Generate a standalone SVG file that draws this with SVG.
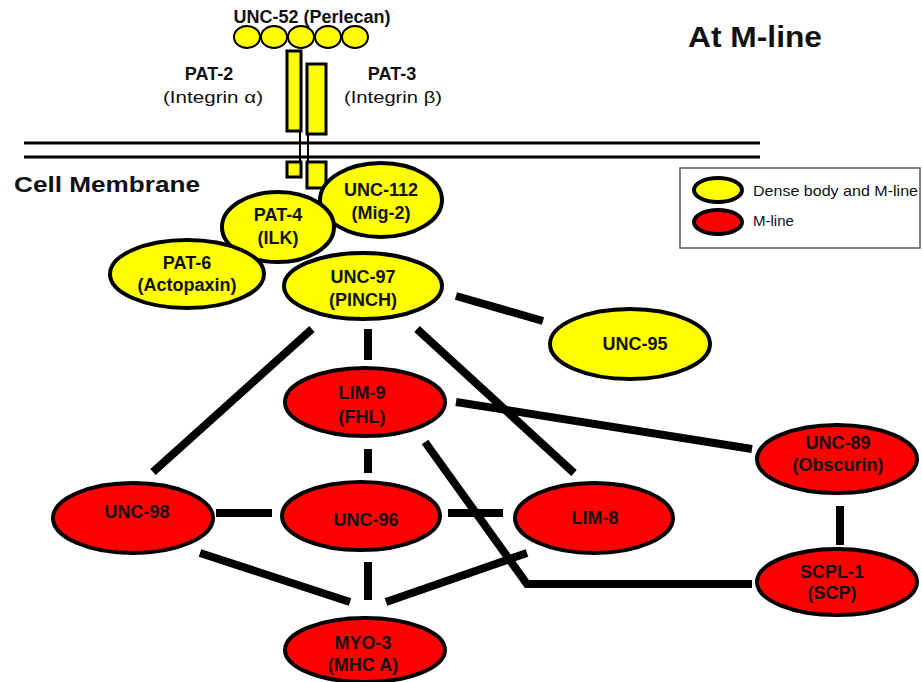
<svg xmlns="http://www.w3.org/2000/svg" width="922" height="682" viewBox="0 0 922 682">
<style>
text{font-family:"Liberation Sans",Arial,sans-serif;fill:#111}
.t{font-weight:bold;font-size:18px;text-anchor:middle}
.y{fill:#ffff00;stroke:#000;stroke-width:4}
.r{fill:#ff0000;stroke:#000;stroke-width:4}
.c{stroke:#000;stroke-width:8;fill:none}
.m{stroke:#000;stroke-width:3}
.rect{fill:#ffff00;stroke:#000;stroke-width:3}
</style>
<rect width="922" height="682" fill="#fff"/>
<g id="perlecan">
<text class="t" x="312" y="23">UNC-52 (Perlecan)</text>
<g class="y" style="stroke-width:2">
<ellipse cx="247" cy="37" rx="13" ry="11"/>
<ellipse cx="274" cy="37" rx="13" ry="11"/>
<ellipse cx="301" cy="37" rx="13" ry="11"/>
<ellipse cx="328" cy="37" rx="13" ry="11"/>
<ellipse cx="355" cy="37" rx="13" ry="11"/>
</g>
</g>
<g id="membrane">
<line class="m" x1="24" y1="143" x2="760" y2="143"/>
<line class="m" x1="24" y1="157" x2="760" y2="157"/>
<text x="14" y="192" font-weight="bold" font-size="22" textLength="186" lengthAdjust="spacingAndGlyphs">Cell Membrane</text>
</g>
<g id="integrins">
<line x1="300" y1="131" x2="300" y2="162" stroke="#000" stroke-width="2"/>
<line x1="308" y1="134" x2="308" y2="162" stroke="#000" stroke-width="2"/>
<rect class="rect" x="287" y="51" width="14" height="80"/>
<rect class="rect" x="307" y="64" width="19" height="70"/>
<rect class="rect" x="287" y="162" width="14" height="15"/>
<rect class="rect" x="307" y="162" width="19" height="26"/>
<text class="t" x="209" y="80">PAT-2</text>
<text x="213" y="103" font-size="17" text-anchor="middle" textLength="100" lengthAdjust="spacingAndGlyphs">(Integrin α)</text>
<text class="t" x="392" y="80">PAT-3</text>
<text x="393" y="103" font-size="17" text-anchor="middle" textLength="98" lengthAdjust="spacingAndGlyphs">(Integrin β)</text>
</g>
<text x="688" y="47" font-weight="bold" font-size="29" textLength="134" lengthAdjust="spacingAndGlyphs">At M-line</text>
<g id="legend">
<rect x="680" y="168" width="240" height="80" fill="#fff" stroke="#555" stroke-width="1.5"/>
<ellipse cx="718" cy="190" rx="24" ry="12" class="y"/>
<ellipse cx="718" cy="222" rx="24" ry="12" class="r"/>
<text x="753" y="196" font-size="15" textLength="165" lengthAdjust="spacingAndGlyphs">Dense body and M-line</text>
<text x="753" y="226" font-size="15">M-line</text>
</g>
<g id="connectors">
<line class="c" x1="312" y1="329" x2="153" y2="472"/>
<line class="c" x1="368" y1="329" x2="368" y2="360"/>
<line class="c" x1="417" y1="329" x2="574" y2="473"/>
<line class="c" x1="456" y1="296" x2="543" y2="321"/>
<line class="c" x1="456" y1="402" x2="752" y2="449"/>
<line class="c" x1="368" y1="449" x2="368" y2="473"/>
<polyline class="c" points="425,442 527,584 752,584"/>
<line class="c" x1="216" y1="513" x2="272" y2="513"/>
<line class="c" x1="448" y1="513" x2="503" y2="513"/>
<line class="c" x1="200" y1="553" x2="350" y2="602"/>
<line class="c" x1="368" y1="562" x2="368" y2="600"/>
<line class="c" x1="386" y1="602" x2="527" y2="553"/>
<line class="c" x1="840" y1="506" x2="840" y2="545"/>
</g>
<g id="unc112"><ellipse class="y" cx="381" cy="200" rx="61" ry="37"/><text class="t" x="381" y="196">UNC-112</text><text class="t" x="381" y="219">(Mig-2)</text></g>
<g id="pat4"><ellipse class="y" cx="278" cy="227" rx="56" ry="35"/><text class="t" x="278" y="221">PAT-4</text><text class="t" x="278" y="244">(ILK)</text></g>
<g id="pat6"><ellipse class="y" cx="187" cy="274" rx="77" ry="34"/><text class="t" x="187" y="269">PAT-6</text><text class="t" x="187" y="291">(Actopaxin)</text></g>
<g id="unc97"><ellipse class="y" cx="363" cy="286" rx="79" ry="33"/><text class="t" x="363" y="283">UNC-97</text><text class="t" x="363" y="306">(PINCH)</text></g>
<g id="unc95"><ellipse class="y" cx="630" cy="344" rx="80" ry="35"/><text class="t" x="635" y="350">UNC-95</text></g>
<g id="lim9"><ellipse class="r" cx="365" cy="402" rx="80" ry="34"/><text class="t" x="362" y="399">LIM-9</text><text class="t" x="362" y="423">(FHL)</text></g>
<g id="unc89"><ellipse class="r" cx="837" cy="459" rx="80" ry="34"/><text class="t" x="838" y="449">UNC-89</text><text class="t" x="838" y="471">(Obscurin)</text></g>
<g id="unc98"><ellipse class="r" cx="133" cy="518" rx="80" ry="35"/><text class="t" x="137" y="518">UNC-98</text></g>
<g id="unc96"><ellipse class="r" cx="361" cy="516" rx="79" ry="34"/><text class="t" x="366" y="526">UNC-96</text></g>
<g id="lim8"><ellipse class="r" cx="594" cy="518" rx="79" ry="35"/><text class="t" x="595" y="524">LIM-8</text></g>
<g id="scpl1"><ellipse class="r" cx="837" cy="582" rx="80" ry="33"/><text class="t" x="832" y="578">SCPL-1</text><text class="t" x="832" y="599">(SCP)</text></g>
<g id="myo3"><ellipse class="r" cx="365" cy="650" rx="80" ry="32"/><text class="t" x="363" y="649">MYO-3</text><text class="t" x="363" y="671">(MHC A)</text></g>
</svg>
